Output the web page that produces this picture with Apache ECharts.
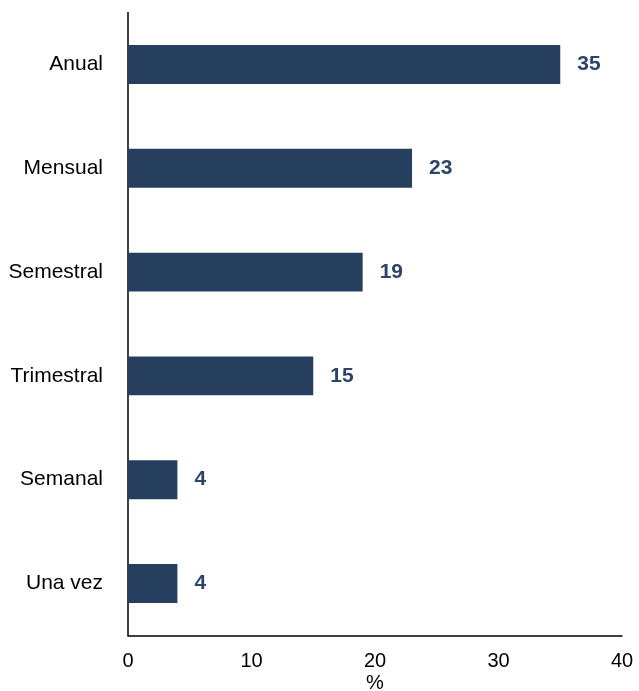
<!DOCTYPE html>
<html>
<head>
<meta charset="utf-8">
<script src="https://cdn.jsdelivr.net/npm/echarts@6/dist/echarts.min.js"></script>
<style>
  html, body { margin: 0; padding: 0; background: #fff; }
  #chart { width: 639px; height: 691px; }
</style>
</head>
<body>
<div id="chart"></div>
<script>
// Frequency categories, listed bottom to top
const categories = ['Una vez', 'Semanal', 'Trimestral', 'Semestral', 'Mensual', 'Anual'];
// Share of respondents (%)
const values = [4, 4, 15, 19, 23, 35];
// Horizontal axis range and step
const xMin = 0;
const xMax = 40;
const xStep = 10;

const FONT = 'Liberation Sans, Arial, sans-serif';

const chart = echarts.init(document.getElementById('chart'));
chart.setOption({
  animation: false,
  grid: {
    left: 128, right: 17, top: 12.6, bottom: 55.6,
    containLabel: false,
    outerBoundsMode: 'none'
  },
  xAxis: {
    type: 'value',
    min: xMin, max: xMax, interval: xStep,
    name: '%',
    nameLocation: 'middle',
    nameGap: 38,
    nameMoveOverlap: false,
    nameTextStyle: { fontFamily: FONT, fontSize: 20, color: '#000' },
    axisLine: { show: true, lineStyle: { color: '#000', width: 1.5 } },
    axisTick: { show: false },
    splitLine: { show: false },
    axisLabel: { fontFamily: FONT, fontSize: 20, color: '#000', margin: 16 }
  },
  yAxis: {
    type: 'category',
    data: categories,
    axisLine: { show: true, lineStyle: { color: '#000', width: 1.5 } },
    axisTick: { show: false },
    axisLabel: { fontFamily: FONT, fontSize: 21, color: '#000', margin: 25 }
  },
  series: [{
    type: 'bar',
    data: values,
    barWidth: '37.5%',
    itemStyle: { color: '#263f5f' },
    label: {
      show: true,
      position: 'right',
      distance: 17,
      fontFamily: FONT,
      fontSize: 21,
      fontWeight: 'bold',
      color: '#2b4468'
    }
  }]
});
</script>
</body>
</html>
